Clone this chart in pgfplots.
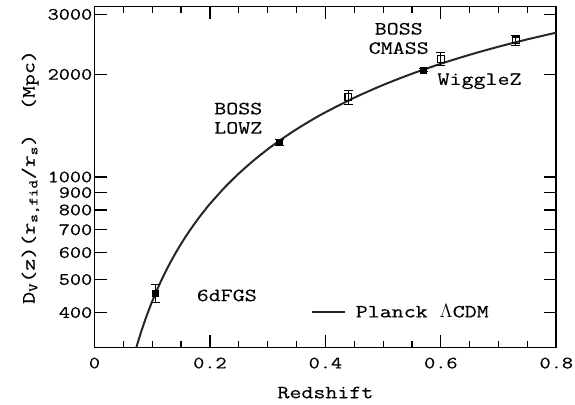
\documentclass[border=0pt]{standalone}
\usepackage{fontspec}
\setmonofont[FakeStretch=1.25, FakeBold=0.3]{Latin Modern Mono}
\usepackage{pgfplots}
\pgfplotsset{compat=1.18}
\newcommand{\lblfont}{\ttfamily\fontsize{14}{14.5}\selectfont}
\newcommand{\tickfont}{\ttfamily\fontsize{13}{13}\selectfont}
\begin{document}
\lblfont
\begin{tikzpicture}
\begin{axis}[
    scale only axis,
    width=347pt, height=256pt,
    ymode=log,
    xmin=0, xmax=0.8,
    ymin=316.2, ymax=3162,
    xtick={0,0.2,0.4,0.6,0.8},
    xticklabels={0,0.2,0.4,0.6,0.8},
    minor x tick num=3,
    ytick={400,500,600,700,800,900,1000,2000,3000},
    yticklabels={400,500,600,700,800,900,1000,2000,3000},
    minor ytick={},
    tick align=inside,
    major tick length=9.5pt, minor tick length=5pt,
    tick style={line width=0.9pt, black},
    axis line style={line width=1.2pt},
    /pgf/number format/assume math mode=true,
    ticklabel style={font=\tickfont, inner sep=1.5pt},
    xticklabel style={yshift=-6pt},
    label style={font=\lblfont},
    xlabel={Redshift},
    xlabel style={at={(axis description cs:0.5,0)}, anchor=center, yshift=-34pt},
    ylabel={D\textsubscript{V}(z)(r\textsubscript{s,fid}/r\textsubscript{s})\ \ (Mpc)},
    legend style={draw=none, fill=none, at={(0.46,0.103)}, anchor=west,
        font=\lblfont},
    legend cell align=left,
    legend image code/.code={\draw[#1] (0pt,0pt) -- (25pt,0pt);},
    clip=true,
]
% Planck LCDM curve
\addplot[line width=1.5pt, black!85, smooth] coordinates {
    (0.06,262.5) (0.07,305.2) (0.08,347.6) (0.09,389.8) (0.10,431.6)
    (0.11,473.1) (0.12,514.4) (0.13,555.3) (0.14,596.0) (0.15,636.3)
    (0.16,676.4) (0.17,716.1) (0.18,755.6) (0.19,794.8) (0.20,833.7)
    (0.225,929.4) (0.25,1023.4) (0.275,1115.4) (0.30,1205.6) (0.325,1294.0)
    (0.35,1380.5) (0.375,1465.3) (0.40,1548.1)
    (0.45,1708.6) (0.50,1862.2) (0.55,2009.1) (0.60,2149.6) (0.65,2283.8)
    (0.70,2412.1) (0.75,2534.8) (0.80,2652.1)
};
\addlegendentry{\hspace{5pt}Planck $\Lambda$CDM}

% filled points: 6dFGS, BOSS LOWZ, BOSS CMASS
\addplot[only marks, mark=square*, mark size=2.2pt, black, forget plot,
    error bars/.cd, y dir=both, y explicit,
    error bar style={line width=0.8pt},
    error mark options={rotate=90, mark size=3.4pt, line width=0.8pt}]
    coordinates {
    (0.106,456) +- (0,27)
    (0.32,1264) +- (0,25)
    (0.57,2056) +- (0,20)
};

% open points: WiggleZ
\addplot[only marks, mark=square, mark size=2.6pt, black, line width=0.8pt, forget plot,
    error bars/.cd, y dir=both, y explicit,
    error bar style={line width=0.8pt},
    error mark options={rotate=90, mark size=3.4pt, line width=0.8pt}]
    coordinates {
    (0.44,1716) +- (0,83)
    (0.60,2221) +- (0,101)
    (0.73,2516) +- (0,86)
};

\node[anchor=west] at (axis cs:0.166,449) {6dFGS};
\node[align=center] at (axis cs:0.249,1487) {BOSS\\LOWZ};
\node[align=center] at (axis cs:0.527,2550) {BOSS\\CMASS};
\node at (axis cs:0.667,1909) {WiggleZ};

\coordinate (sw) at (rel axis cs:0,0);
\coordinate (ne) at (rel axis cs:1,1);
\end{axis}
\path ([shift={(-71pt,-42pt)}]sw) rectangle ([shift={(13pt,5pt)}]ne);
\end{tikzpicture}
\end{document}
